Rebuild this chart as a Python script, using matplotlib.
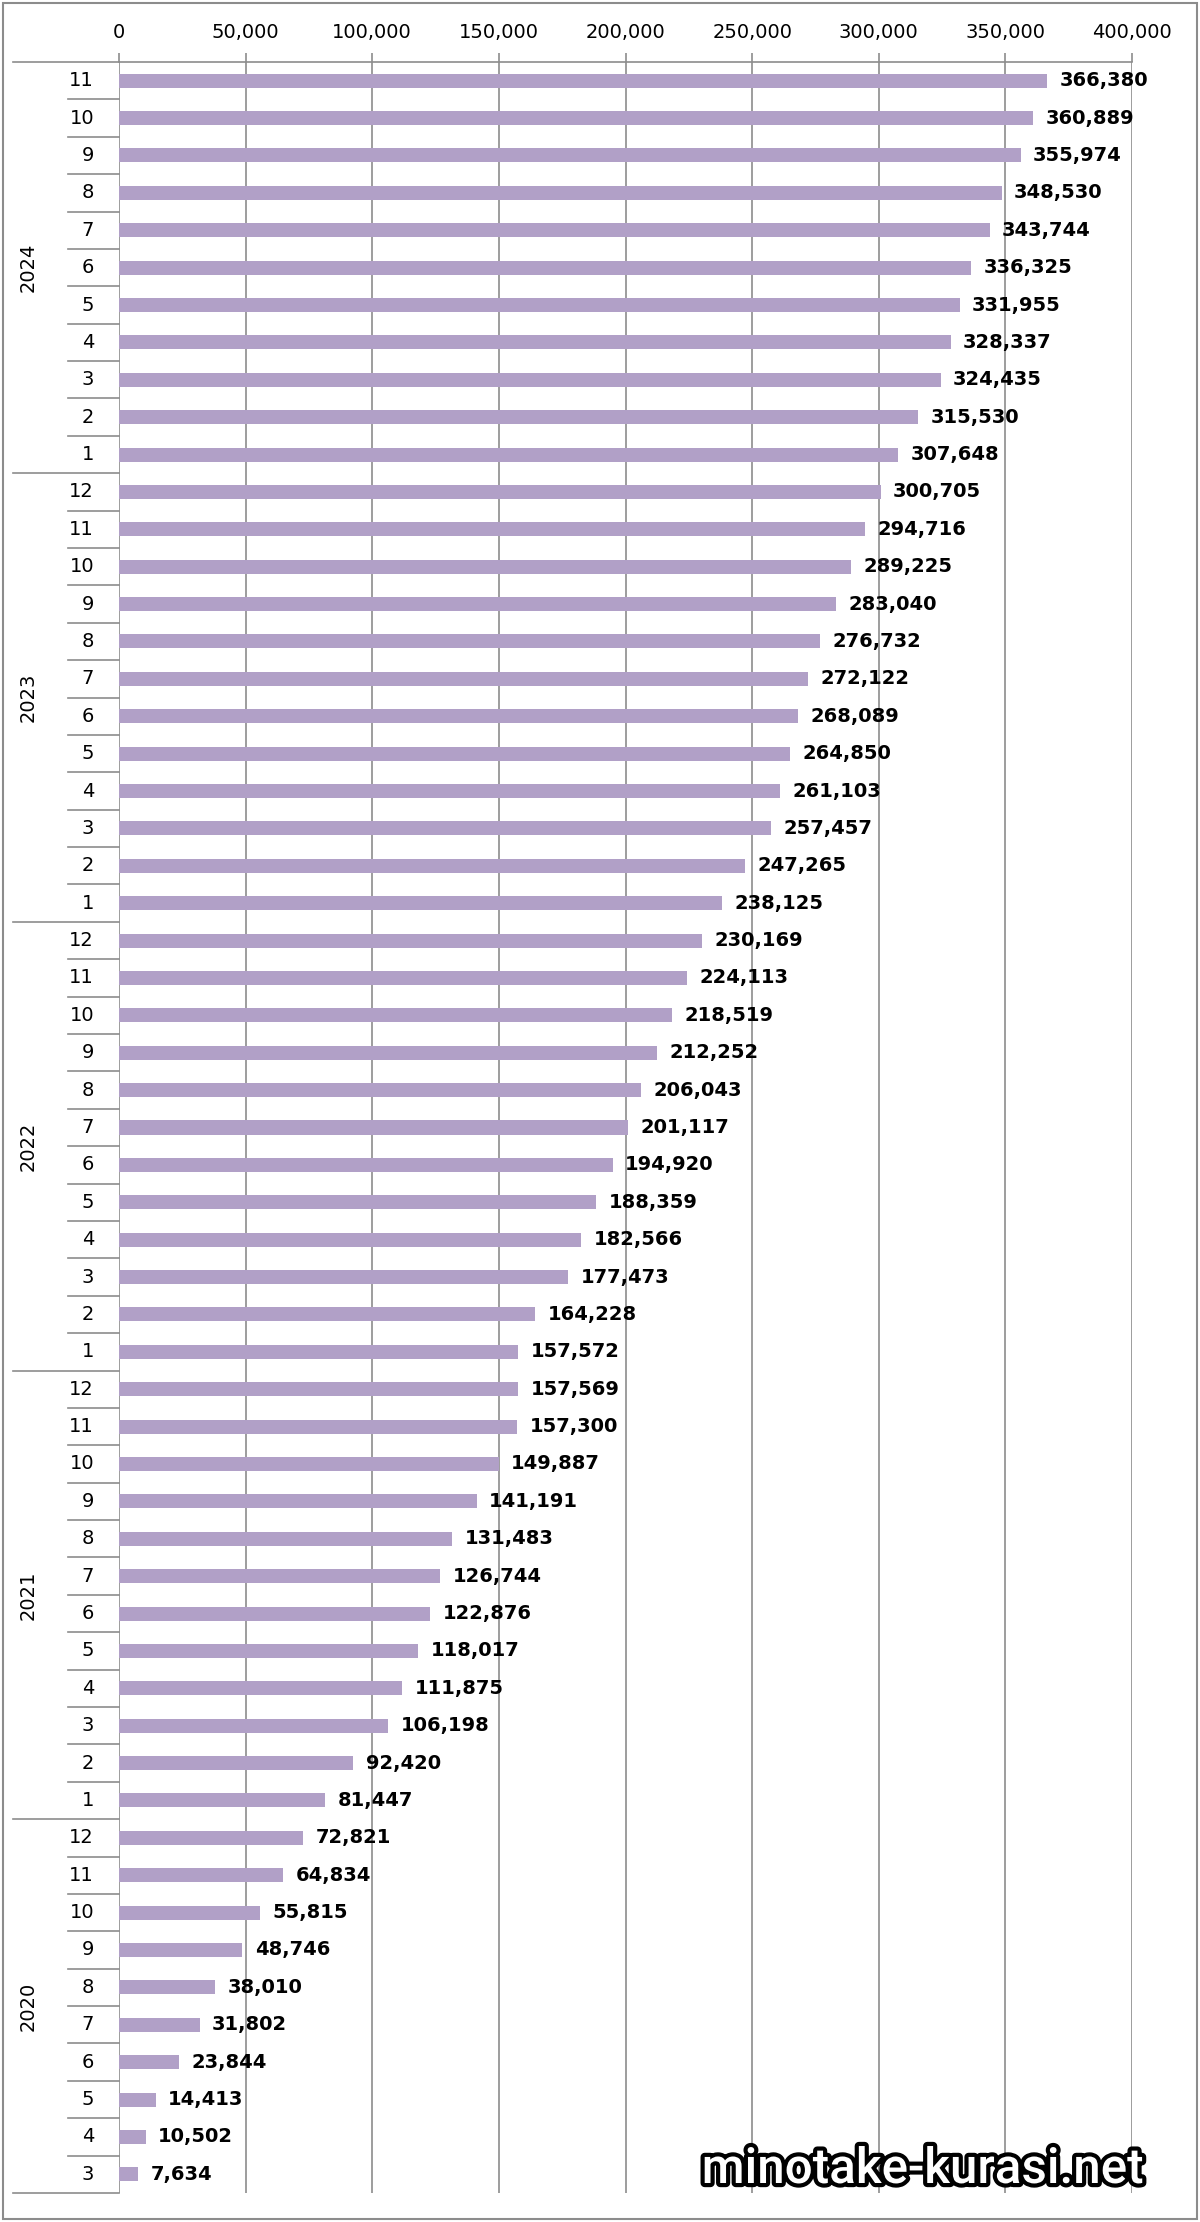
import matplotlib
matplotlib.use("Agg")
import matplotlib.pyplot as plt
import matplotlib.patheffects as pe
from matplotlib.transforms import blended_transform_factory
from matplotlib.ticker import FuncFormatter
import numpy as np

# データ (上から順: 2024年11月 -> 2020年3月)
years = ["2024", "2023", "2022", "2021", "2020"]
months_2024 = [11, 10, 9, 8, 7, 6, 5, 4, 3, 2, 1]
months_2023 = [12, 11, 10, 9, 8, 7, 6, 5, 4, 3, 2, 1]
months_2022 = [12, 11, 10, 9, 8, 7, 6, 5, 4, 3, 2, 1]
months_2021 = [12, 11, 10, 9, 8, 7, 6, 5, 4, 3, 2, 1]
months_2020 = [12, 11, 10, 9, 8, 7, 6, 5, 4, 3]

values_2024 = [366380, 360889, 355974, 348530, 343744, 336325, 331955, 328337, 324435, 315530, 307648]
values_2023 = [300705, 294716, 289225, 283040, 276732, 272122, 268089, 264850, 261103, 257457, 247265, 238125]
values_2022 = [230169, 224113, 218519, 212252, 206043, 201117, 194920, 188359, 182566, 177473, 164228, 157572]
values_2021 = [157569, 157300, 149887, 141191, 131483, 126744, 122876, 118017, 111875, 106198, 92420, 81447]
values_2020 = [72821, 64834, 55815, 48746, 38010, 31802, 23844, 14413, 10502, 7634]

month_groups = [months_2024, months_2023, months_2022, months_2021, months_2020]
value_groups = [values_2024, values_2023, values_2022, values_2021, values_2020]

months = sum(month_groups, [])
values = sum(value_groups, [])

BAR_COLOR = "#B1A0C7"
GRID_COLOR = "#8C8C8C"

W, H = 1200, 2222
fig = plt.figure(figsize=(W / 100, H / 100), dpi=100)

# 枠線
fig.patches.append(plt.Rectangle((3 / W, 3 / H), 1 - 6 / W, 1 - 6 / H, transform=fig.transFigure,
                                 fill=False, edgecolor=GRID_COLOR, linewidth=1.5))

left_px, right_px, top_px, bottom_px = 119, 1132, 62, 2193
ax = fig.add_axes([left_px / W, (H - bottom_px) / H, (right_px - left_px) / W, (bottom_px - top_px) / H])

n = len(values)
ypos = np.arange(n)
ax.barh(ypos, values, height=0.375, color=BAR_COLOR, zorder=3)
ax.set_ylim(n - 0.5, -0.5)
ax.set_xlim(0, 400000)

for y, v in zip(ypos, values):
    ax.annotate(f"{v:,}", (v, y), xytext=(9, 0), textcoords="offset points",
                ha="left", va="center", fontsize=14, fontweight="bold", color="black", zorder=4)

ax.xaxis.tick_top()
ax.set_xticks(np.arange(0, 400001, 50000))
ax.xaxis.set_major_formatter(FuncFormatter(lambda x, p: f"{int(x):,}"))
ax.tick_params(axis="x", direction="out", length=6.5, width=1.2, color=GRID_COLOR,
               labelsize=14, pad=8)
ax.grid(axis="x", color=GRID_COLOR, linewidth=1.2, zorder=1)
ax.set_yticks([])
for s in ["bottom", "right", "left"]:
    ax.spines[s].set_visible(False)
ax.spines["top"].set_color(GRID_COLOR)
ax.spines["top"].set_linewidth(1.2)

# 分類軸 (年 / 月)
tr = blended_transform_factory(ax.transAxes, ax.transData)
x_month = (68 - left_px) / (right_px - left_px)
x_year = (13 - left_px) / (right_px - left_px)
x_mlabel = (94 - left_px) / (right_px - left_px)
x_ylabel = (28 - left_px) / (right_px - left_px)

for y, m in zip(ypos, months):
    ax.text(x_mlabel, y, str(m), transform=tr, ha="right", va="center", fontsize=14, clip_on=False)

start = 0
ax.plot([x_year, 0], [-0.5, -0.5], transform=tr, color=GRID_COLOR, lw=1.2, clip_on=False)
for yr, grp in zip(years, month_groups):
    end = start + len(grp)
    for k in range(start + 1, end):
        ax.plot([x_month, 0], [k - 0.5, k - 0.5], transform=tr, color=GRID_COLOR, lw=1.2, clip_on=False)
    ax.plot([x_year, 0], [end - 0.5, end - 0.5], transform=tr, color=GRID_COLOR, lw=1.2, clip_on=False)
    ax.text(x_ylabel, (start + end - 1) / 2, yr, transform=tr, rotation=90, ha="center", va="center",
            fontsize=14, clip_on=False)
    start = end

# ウォーターマーク
fig.text(922 / W, 1 - 2170 / H, "minotake-kurasi.net", ha="center", va="center",
         fontsize=35.5, family="Roboto", fontweight="medium", color="white",
         path_effects=[pe.withStroke(linewidth=6, foreground="black")])

fig.savefig("out.png", dpi=100)
